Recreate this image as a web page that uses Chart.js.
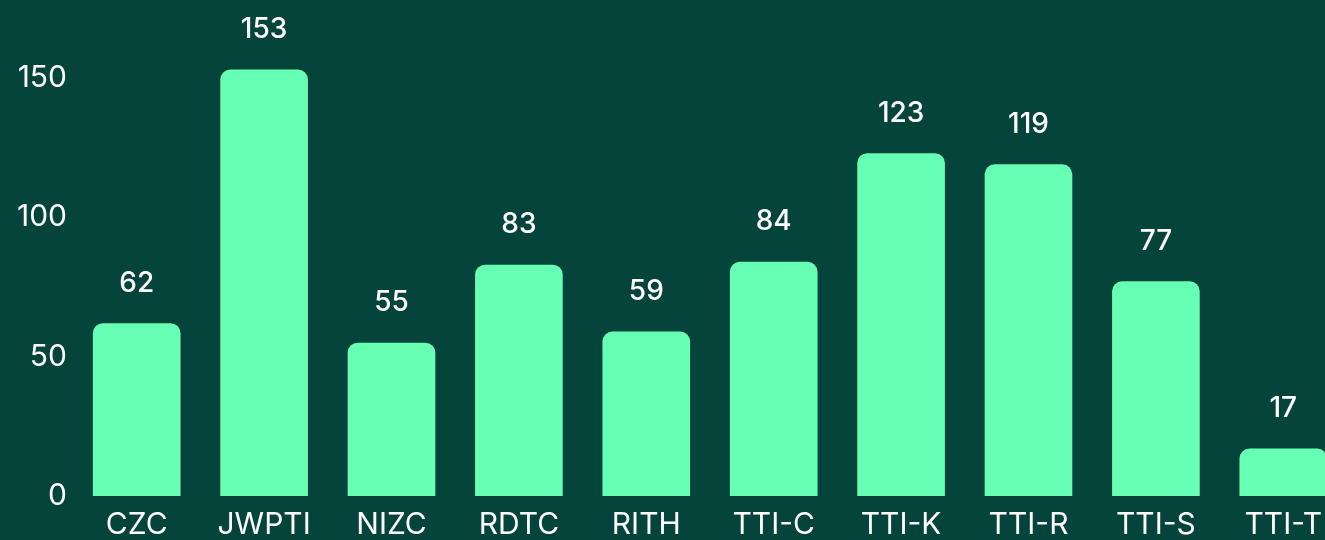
<!DOCTYPE html>
<html>
<head>
<meta charset="utf-8">
<script src="https://cdn.jsdelivr.net/npm/chart.js@4/dist/chart.umd.min.js"></script>
<style>
  html, body { margin: 0; padding: 0; background: #05443A; overflow: hidden; }
  #wrap { width: 1360px; height: 540px; position: relative; }
</style>
</head>
<body>
<div id="wrap"><canvas id="barChart"></canvas></div>
<script>
const categories = ['CZC', 'JWPTI', 'NIZC', 'RDTC', 'RITH', 'TTI-C', 'TTI-K', 'TTI-R', 'TTI-S', 'TTI-T'];
const counts = [62, 153, 55, 83, 59, 84, 123, 119, 77, 17];
const yTicks = [0, 50, 100, 150];

const fontFamily = "Inter, 'Noto Sans', sans-serif";

// draw value labels above each bar
const valueLabels = {
    id: 'valueLabels',
    afterDatasetsDraw(chart) {
        const ctx = chart.ctx;
        const meta = chart.getDatasetMeta(0);
        ctx.save();
        ctx.fillStyle = '#ffffff';
        ctx.font = '500 28px ' + fontFamily;
        ctx.textAlign = 'center';
        ctx.textBaseline = 'middle';
        meta.data.forEach((bar, i) => {
            ctx.fillText(String(counts[i]), bar.x, bar.y - 40);
        });
        ctx.restore();
    }
};

const ctx = document.getElementById('barChart').getContext('2d');
const barChart = new Chart(ctx, {
    type: 'bar',
    data: {
        labels: categories,
        datasets: [{
            data: counts,
            backgroundColor: '#66FFB3',
            borderRadius: 10,
            borderSkipped: 'start',
            categoryPercentage: 0.8,
            barPercentage: 0.86
        }]
    },
    options: {
        responsive: true,
        maintainAspectRatio: false,
        animation: false,
        layout: { padding: { top: 50, right: 13, left: 0, bottom: 0 } },
        plugins: {
            legend: { display: false },
            tooltip: { enabled: false }
        },
        scales: {
            x: {
                grid: { display: false, drawTicks: false },
                border: { display: false },
                ticks: {
                    color: '#ffffff',
                    font: { family: fontFamily, size: 30 },
                    padding: 11,
                    maxRotation: 0,
                    autoSkip: false
                },
                afterFit(scale) { scale.height = 44; }
            },
            y: {
                min: 0,
                max: 160,
                grid: { display: false, drawTicks: false },
                border: { display: false },
                ticks: {
                    stepSize: 50,
                    includeBounds: false,
                    color: '#ffffff',
                    font: { family: fontFamily, size: 30 },
                    padding: 6
                },
                afterBuildTicks(scale) {
                    scale.ticks = yTicks.map(v => ({ value: v }));
                },
                afterFit(scale) { scale.width = 73; }
            }
        }
    },
    plugins: [valueLabels]
});
</script>
</body>
</html>
